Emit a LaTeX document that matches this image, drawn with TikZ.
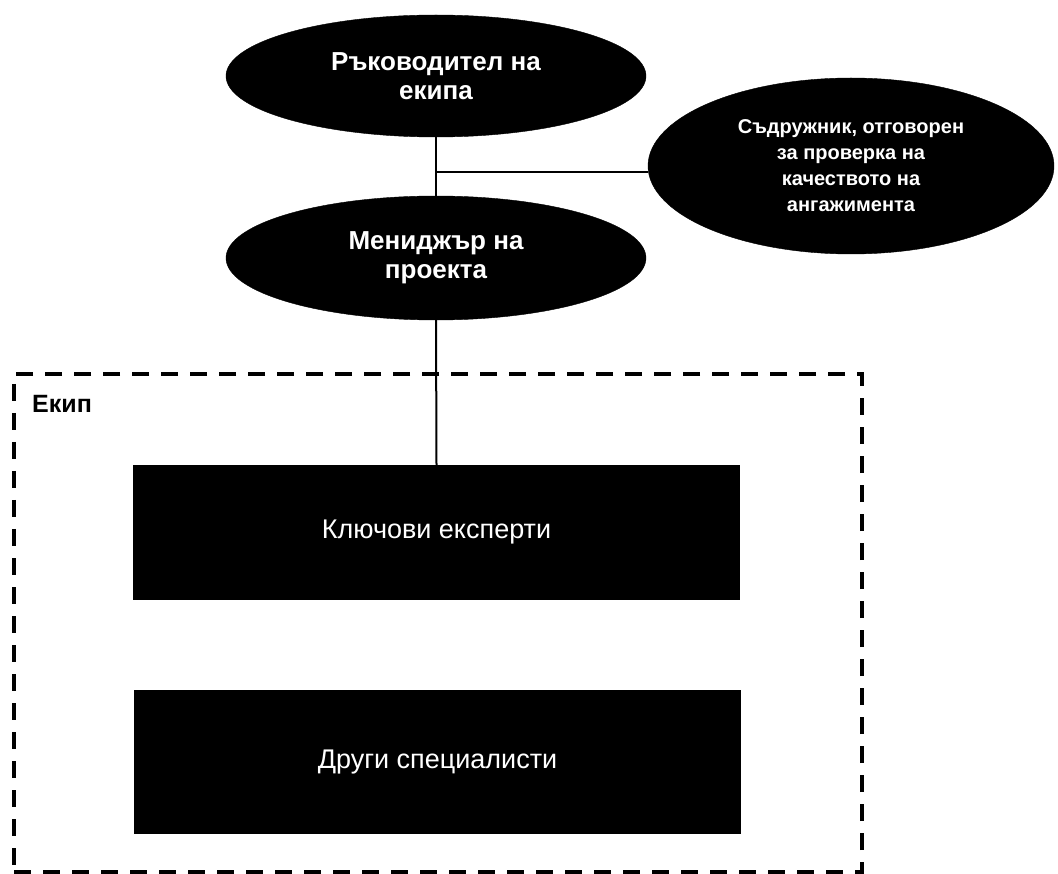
\documentclass[tikz,border=0pt]{standalone}
\usepackage{fontspec}
\setmainfont{Liberation Sans}
\usetikzlibrary{shapes.geometric}
\begin{document}
\begin{tikzpicture}[x=1pt,y=-1pt,
  oval/.style={ellipse, fill=black, draw=black, inner sep=0pt, text=white, align=center,
    font=\bfseries\fontsize{26}{29}\selectfont},
  box/.style={rectangle, fill=black, inner sep=0pt, text=white,
    font=\fontsize{27}{30}\selectfont},
  link/.style={line width=2pt},
  teamframe/.style={draw, dash pattern=on 17pt off 12pt, line width=3.5pt, inner sep=0pt}]
\useasboundingbox (0,0) rectangle (1058,874);
\node[teamframe, minimum width=848pt, minimum height=498pt] (team) at (438,623) {};
\node[anchor=west, inner sep=0pt, font=\bfseries\fontsize{25}{29}\selectfont] (ekip) at (32,404) {Екип};
\node[oval, minimum width=420pt, minimum height=122pt] (lead) at (436,76) {Ръководител на\\екипа};
\node[oval, minimum width=420pt, minimum height=124pt] (mgr) at (436,258) {Мениджър на\\проекта};
\node[oval, minimum width=406pt, minimum height=176pt,
  font=\bfseries\fontsize{20}{26}\selectfont] (eqr) at (851,166) {Съдружник, отговорен\\за проверка на\\качеството на\\ангажимента};
\node[box, minimum width=607pt, minimum height=135pt] (key) at (436.5,532.5) {Ключови експерти};
\node[box, minimum width=607pt, minimum height=144pt] (oth) at (437.5,762) {Други специалисти};
\coordinate (j) at (436,172);
\draw[link] (lead.south) -- (mgr.north);
\draw[link] (j) -- (j -| eqr.west);
\draw[link] (mgr.south) -- (key.north);
\end{tikzpicture}
\end{document}
